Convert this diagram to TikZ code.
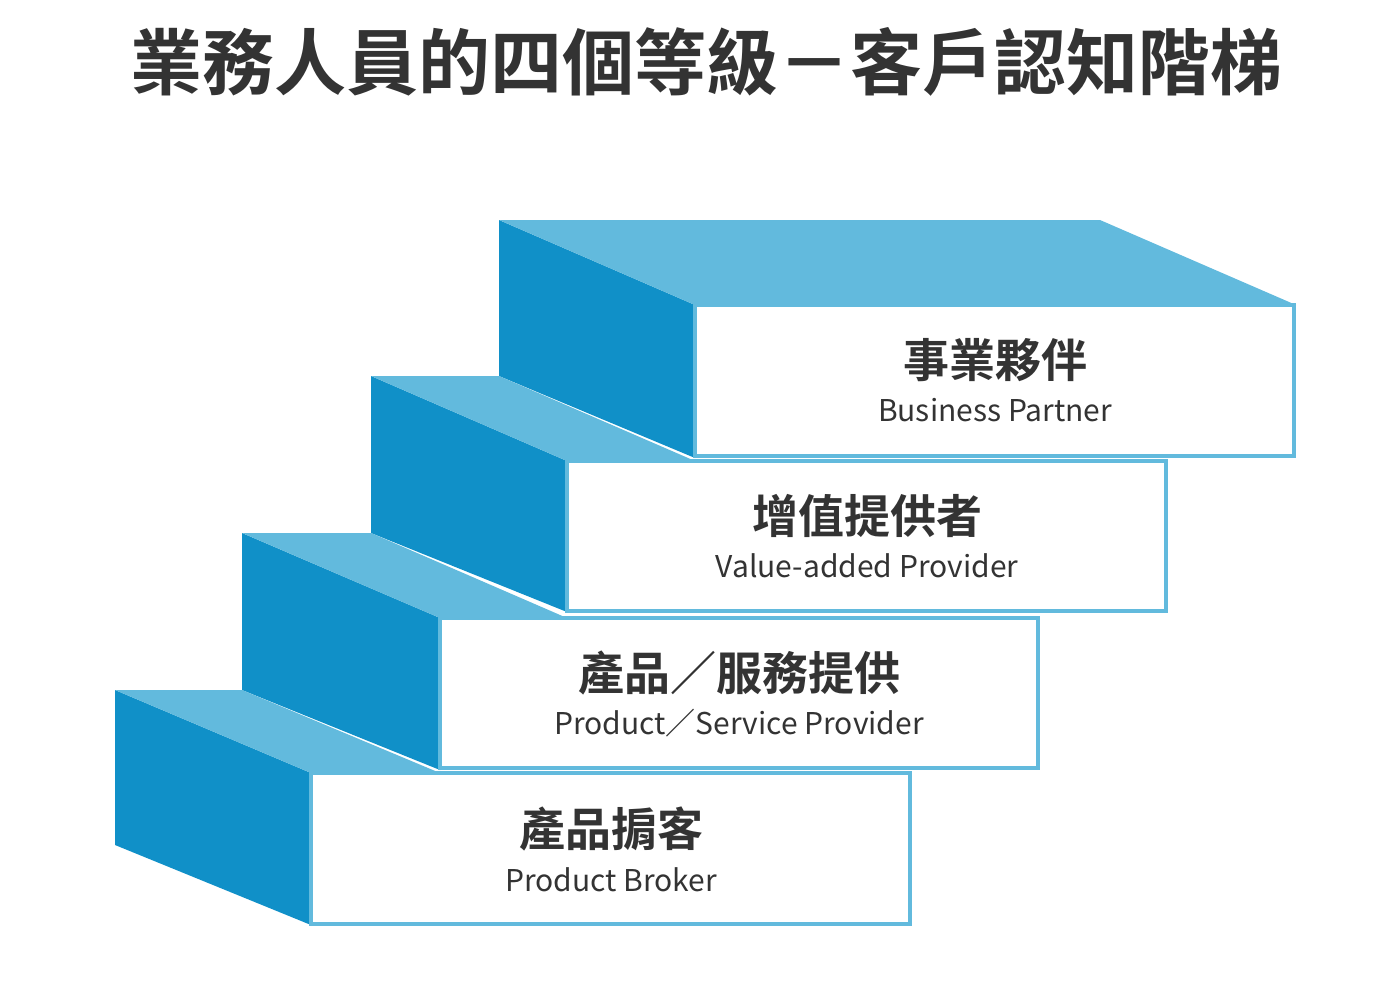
\documentclass[tikz,border=0pt]{standalone}
\usepackage{fontspec}
\setmainfont{Noto Sans CJK TC}
\newfontfamily\cjkb{Noto Sans CJK TC Bold}
\definecolor{dk}{HTML}{1090C8}
\definecolor{lt}{HTML}{62BADD}
\definecolor{tx}{HTML}{333333}
\begin{document}
\begin{tikzpicture}[x=1pt,y=-1pt,
  front/.style={draw=lt,line width=3.5pt,fill=white},
  cn/.style={font=\cjkb\fontsize{46}{50}\selectfont,text=tx},
  en/.style={font=\fontsize{30}{34}\selectfont,text=tx}]
\useasboundingbox (0,0) rectangle (1400,982);
\node[font=\cjkb\fontsize{72}{80}\selectfont,text=tx] (title) at (706,62) {業務人員的四個等級－客戶認知階梯};
% step 4 (top)
\fill[dk] (499,220)--(695,305)--(695,458)--(499,376)--cycle;
\fill[lt] (499,220)--(1100,220)--(1296,305)--(695,305)--cycle;
\draw[front] (695,305) rectangle (1294,456);
% step 3
\fill[dk] (371,376)--(567,461)--(567,612)--(371,533)--cycle;
\fill[lt] (371,376)--(499,376)--(695,461)--(567,461)--cycle;
\draw[front] (567,461) rectangle (1166,611);
% step 2
\fill[dk] (242,533)--(440,618)--(440,770)--(242,690)--cycle;
\fill[lt] (242,533)--(371,533)--(567,618)--(440,618)--cycle;
\draw[front] (440,618) rectangle (1038,768);
% step 1
\fill[dk] (115,690)--(311,773)--(311,925)--(115,845)--cycle;
\fill[lt] (115,690)--(242,690)--(440,773)--(311,773)--cycle;
\draw[front] (311,773) rectangle (910,924);
% labels
\node[cn] (c4) at (995,360) {事業夥伴};
\node[en] (e4) at (995,410) {Business Partner};
\node[cn] (c3) at (867,516) {增值提供者};
\node[en] (e3) at (867,566) {Value-added Provider};
\node[cn] (c2) at (739,673) {產品／服務提供};
\node[en] (e2) at (739,723) {Product／Service Provider};
\node[cn] (c1) at (611,829) {產品掮客};
\node[en] (e1) at (611,880) {Product Broker};
\end{tikzpicture}
\end{document}
